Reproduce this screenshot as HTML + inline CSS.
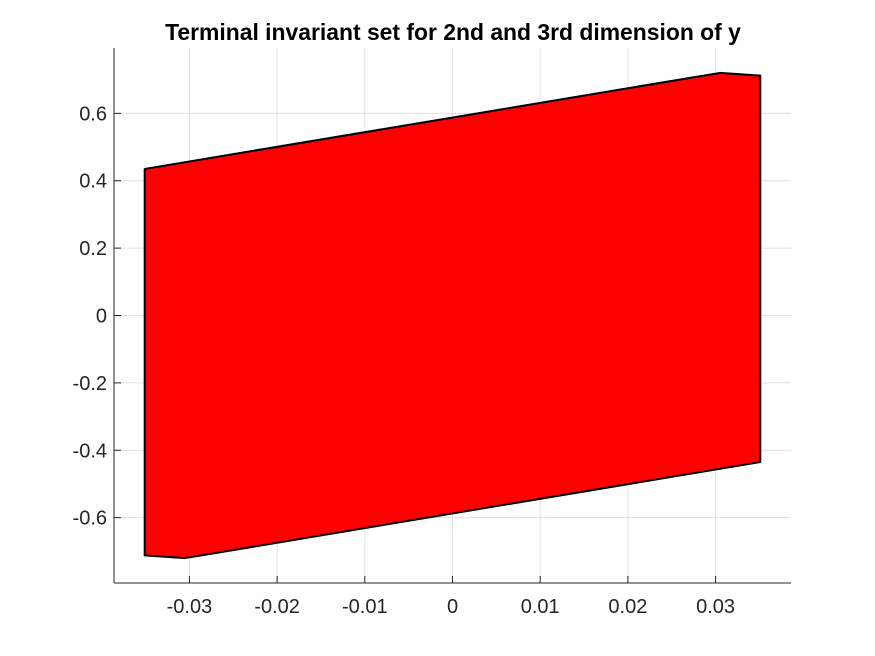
<!DOCTYPE html>
<html><head><meta charset="utf-8"><style>
html,body{margin:0;padding:0;background:#fff;}
svg{display:block;font-family:"Liberation Sans",sans-serif;}
</style></head><body>
<svg id="chart" width="875" height="656"></svg>
<script>
const xTicks=[-0.03,-0.02,-0.01,0,0.01,0.02,0.03];
const xTickLabels=["-0.03","-0.02","-0.01","0","0.01","0.02","0.03"];
const yTicks=[-0.6,-0.4,-0.2,0,0.2,0.4,0.6];
const yTickLabels=["-0.6","-0.4","-0.2","0","0.2","0.4","0.6"];
const polyX=[-0.0351,0.027,0.0305,0.0351,0.0351,-0.027,-0.0305,-0.0351];
const polyY=[0.435,0.705,0.72,0.712,-0.435,-0.705,-0.72,-0.712];
const L=114,R=791,T=48,B=583;
const xMin=-0.0386,xMax=0.0386,yMin=-0.794,yMax=0.794;
const sx=v=>L+(v-xMin)/(xMax-xMin)*(R-L);
const sy=v=>B-(v-yMin)/(yMax-yMin)*(B-T);
const svg=document.getElementById('chart');
const NS='http://www.w3.org/2000/svg';
function mk(tag,attrs,parent){const e=document.createElementNS(NS,tag);for(const k in attrs)e.setAttribute(k,attrs[k]);(parent||svg).appendChild(e);return e;}
xTicks.forEach(v=>{const l=mk('line',{x1:sx(v),x2:sx(v),y1:T,y2:B,stroke:'#e0e0e0','stroke-width':1});

});
yTicks.forEach(v=>{const l=mk('line',{x1:L,x2:R,y1:sy(v),y2:sy(v),stroke:'#e0e0e0','stroke-width':1});

});
const pts=polyX.map((x,i)=>sx(x)+','+sy(polyY[i])).join(' ');
const p=mk('polygon',{points:pts,fill:'#ff0000',stroke:'#000','stroke-width':2,'stroke-linejoin':'round'});


const ax=mk('line',{x1:L,x2:R,y1:B,y2:B,stroke:'#262626','stroke-width':1});


const ay=mk('line',{x1:L,x2:L,y1:T,y2:B,stroke:'#262626','stroke-width':1});


xTicks.forEach((v,i)=>{
 mk('line',{x1:sx(v),x2:sx(v),y1:B,y2:B-7,stroke:'#262626'});
 const t=mk('text',{x:sx(v),y:613,'text-anchor':'middle','font-size':20,fill:'#262626'});
 t.textContent=xTickLabels[i];
 
 
});
yTicks.forEach((v,i)=>{
 mk('line',{x1:L,x2:L+7,y1:sy(v),y2:sy(v),stroke:'#262626'});
 const t=mk('text',{x:107,y:sy(v)+7,'text-anchor':'end','font-size':20,fill:'#262626'});
 t.textContent=yTickLabels[i];
 
 
});
const title=mk('text',{x:453,y:40,'text-anchor':'middle','font-size':22.9,'font-weight':'bold',fill:'#000'});
title.textContent='Terminal invariant set for 2nd and 3rd dimension of y';


</script>
</body></html>
